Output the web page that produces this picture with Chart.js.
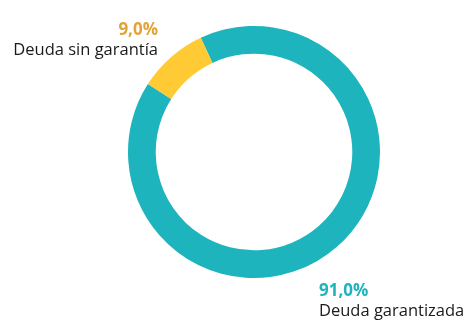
<!DOCTYPE html>
<html lang="es">
<head>
<meta charset="utf-8">
<title>Deuda</title>
<script src="https://cdn.jsdelivr.net/npm/chart.js@4"></script>
<style>
    html, body { margin: 0; padding: 0; background: #fff; }
    #wrap { width: 465px; height: 320px; }
</style>
</head>
<body>
<div id="wrap"><canvas id="myChart" width="465" height="320"></canvas></div>
<script>
    // datos
    var labels = ['Deuda garantizada', 'Deuda sin garantía'];
    var values = [91.0, 9.0];
    var colors = ['#1eb4bd', '#ffca33'];
    var textColors = ['#1eb4bd', '#e3a437'];

    // posición de cada etiqueta respecto al punto exterior del arco
    var labelOffsets = [
        { dx: -18, dy: 49, align: 'left' },
        { dx: -13, dy: -22, align: 'right' }
    ];

    function pct(v) {
        return v.toFixed(1).replace('.', ',') + '%';
    }

    var arcLabels = {
        id: 'arcLabels',
        afterDraw: function (chart) {
            var ctx = chart.ctx;
            var meta = chart.getDatasetMeta(0);
            ctx.save();
            ctx.textBaseline = 'alphabetic';
            meta.data.forEach(function (arc, i) {
                var p = arc.getProps(['x', 'y', 'startAngle', 'endAngle', 'outerRadius'], true);
                var mid = (p.startAngle + p.endAngle) / 2;
                var x = p.x + Math.cos(mid) * p.outerRadius + labelOffsets[i].dx;
                var y = p.y + Math.sin(mid) * p.outerRadius + labelOffsets[i].dy;
                ctx.textAlign = labelOffsets[i].align;
                ctx.fillStyle = textColors[i];
                ctx.font = 'bold 17px "Open Sans"';
                ctx.fillText(pct(values[i]), x, y);
                ctx.fillStyle = '#1a1a1a';
                ctx.font = '16.5px "Open Sans"';
                ctx.fillText(labels[i], x, y + 20);
            });
            ctx.restore();
        }
    };

    new Chart(document.getElementById('myChart'), {
        type: 'doughnut',
        data: {
            labels: labels,
            datasets: [{
                data: values,
                backgroundColor: colors,
                borderWidth: 0
            }]
        },
        options: {
            responsive: false,
            animation: false,
            rotation: -25,
            cutout: '78%',
            layout: { padding: { left: 128, right: 85, top: 26, bottom: 42 } },
            plugins: {
                legend: { display: false },
                tooltip: { enabled: false }
            }
        },
        plugins: [arcLabels]
    });
</script>
</body>
</html>
